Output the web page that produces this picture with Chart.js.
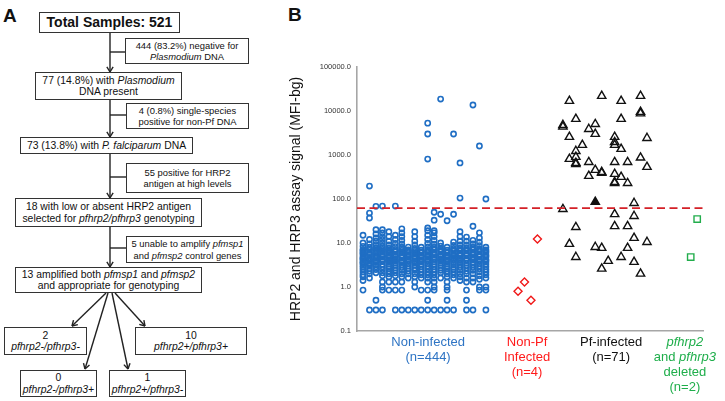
<!DOCTYPE html>
<html>
<head>
<meta charset="utf-8">
<script src="https://cdn.jsdelivr.net/npm/chart.js@4.4.1/dist/chart.umd.min.js"></script>
<style>
  body { margin: 0; background: #fff; }
  #page { position: relative; width: 725px; height: 401px; overflow: hidden;
          font-family: "Liberation Sans", Arial, sans-serif; color: #111; }
  .panel { position: absolute; font-weight: bold; font-size: 19px; line-height: 19px; }
  .box { position: absolute; box-sizing: border-box; border: 1px solid #333; background: #fff;
         text-align: center; font-size: 10.4px; line-height: 11.5px;
         display: flex; align-items: center; justify-content: center; white-space: nowrap; }
  .side { font-size: 9.4px; }
  #flow { position: absolute; left: 0; top: 0; }
  #chartB { position: absolute; left: 250px; top: 0; }
  .group { position: absolute; transform: translateX(-50%); text-align: center;
           font-size: 13px; line-height: 15px; white-space: nowrap; }
</style>
</head>
<body>
<div id="page">
  <svg id="flow" width="250" height="401"></svg>
  <div class="panel" style="left:3px;top:6px">A</div>
  <div class="panel" style="left:288px;top:5px">B</div>

  <div class="box" style="left:39px;top:12px;width:141px;height:21px;font-weight:bold;font-size:14px;border-width:1.5px">Total Samples: 521</div>
  <div class="box side" style="left:125px;top:38px;width:124px;height:26px"><div>444 (83.2%) negative for<br><i>Plasmodium</i> DNA</div></div>
  <div class="box" style="left:35px;top:72px;width:147px;height:28px"><div>77 (14.8%) with <i>Plasmodium</i><br>DNA present</div></div>
  <div class="box side" style="left:126px;top:103px;width:123px;height:26px"><div>4 (0.8%) single-species<br>positive for non-Pf DNA</div></div>
  <div class="box" style="left:20px;top:137px;width:173px;height:17px">73 (13.8%) with&nbsp;<i>P. falciparum</i>&nbsp;DNA</div>
  <div class="box side" style="left:126px;top:163px;width:123px;height:30px"><div>55 positive for HRP2<br>antigen at high levels</div></div>
  <div class="box" style="left:15px;top:198px;width:187px;height:29px"><div>18 with low or absent HRP2 antigen<br>selected for <i>pfhrp2/pfhrp3</i> genotyping</div></div>
  <div class="box side" style="left:126px;top:236px;width:123px;height:27px"><div>5 unable to amplify <i>pfmsp1</i><br>and <i>pfmsp2</i> control genes</div></div>
  <div class="box" style="left:15px;top:267px;width:187px;height:26px"><div>13 amplified both <i>pfmsp1</i> and <i>pfmsp2</i><br>and appropriate for genotyping</div></div>
  <div class="box" style="left:4px;top:327px;width:83px;height:28px"><div>2<br><i>pfhrp2-/pfhrp3-</i></div></div>
  <div class="box" style="left:135px;top:327px;width:112px;height:28px"><div>10<br><i>pfhrp2+/pfhrp3+</i></div></div>
  <div class="box" style="left:20px;top:370px;width:77px;height:27px"><div>0<br><i>pfhrp2-/pfhrp3+</i></div></div>
  <div class="box" style="left:109px;top:370px;width:77px;height:27px"><div>1<br><i>pfhrp2+/pfhrp3-</i></div></div>

  <canvas id="chartB" width="475" height="401"></canvas>
</div>

<script>
// y axis
const yTicks = [0.1, 1, 10, 100, 1000, 10000, 100000]
const cutoff = 62

// Non-infected: one array of MFI values per jitter column
const nonInfectedCols = [
  [15, 10, 8.4, 7.2, 6.8, 6.3, 5.9, 5.6, 5.0, 4.6, 4.4, 4.2, 3.8, 3.6, 3.4, 3.1, 2.8, 2.5, 2.2, 1.9, 1.7, 1.4, 0.85],
  [197, 48, 37, 12, 9.5, 8.0, 7.3, 6.8, 6.0, 5.6, 5.3, 4.7, 4.3, 4.1, 3.9, 3.5, 3.2, 3.0, 2.6, 2.3, 2.0, 1.6, 0.3],
  [68, 20, 16, 13, 11, 9.2, 7.8, 7.1, 6.6, 6.2, 5.8, 5.1, 4.8, 4.5, 4.0, 3.8, 3.6, 3.2, 2.9, 2.5, 2.1, 0.5, 0.3],
  [69, 20, 17, 14, 12, 10, 8.5, 7.8, 7.2, 6.7, 6.2, 5.4, 5.1, 4.8, 4.3, 4.0, 3.8, 3.3, 2.9, 2.5, 2.1, 1.8, 1.3, 1.0, 0.85, 0.3],
  [18, 14, 11, 9.0, 7.6, 7.0, 6.6, 6.2, 5.8, 5.2, 4.9, 4.6, 4.1, 3.9, 3.7, 3.3, 2.9, 2.6, 2.3, 2.0, 1.7, 1.3, 0.85],
  [69, 15, 12, 9.8, 8.3, 7.1, 6.6, 6.2, 5.5, 5.2, 4.9, 4.4, 4.1, 3.9, 3.5, 3.1, 2.7, 2.4, 2.1, 1.8, 1.3, 0.85, 0.3],
  [21, 17, 14, 11.5, 9.5, 8.0, 7.4, 6.8, 6.3, 5.9, 5.2, 4.9, 4.6, 4.0, 3.8, 3.6, 3.2, 2.8, 2.4, 2.0, 1.7, 1.3, 0.85, 0.3],
  [8.1, 7.0, 6.5, 6.1, 5.4, 5.1, 4.8, 4.3, 4.0, 3.8, 3.4, 3.0, 2.6, 2.3, 2.0, 1.6, 0.3],
  [18, 14, 11, 9.0, 7.5, 6.9, 6.4, 5.9, 5.6, 5.0, 4.7, 4.4, 3.9, 3.7, 3.5, 3.1, 2.7, 2.4, 2.0, 1.7, 1.3, 1.0, 0.3],
  [8.0, 6.9, 6.4, 6.0, 5.3, 5.0, 4.7, 4.2, 3.9, 3.7, 3.3, 2.9, 2.5, 2.2, 1.9, 1.6, 0.85, 0.3],
  [5300, 3000, 810, 22, 19, 15, 12, 9.8, 8.2, 7.0, 6.5, 6.1, 5.4, 5.1, 4.8, 4.3, 4.0, 3.8, 3.4, 3.0, 2.6, 2.2, 1.9, 1.6, 1.3, 0.85, 0.5, 0.3],
  [50, 33, 19, 17, 14, 11.5, 9.4, 8.0, 7.4, 6.9, 6.0, 5.6, 5.3, 4.7, 4.4, 4.2, 3.7, 3.3, 2.9, 2.5, 2.2, 1.9, 1.6, 1.3, 1.0, 0.85, 0.3],
  [18700, 45, 10, 8.5, 7.3, 6.8, 6.3, 5.5, 5.2, 4.9, 4.4, 4.1, 3.9, 3.5, 3.1, 2.7, 2.4, 2.1, 1.6, 0.3],
  [32, 8.0, 6.9, 6.4, 6.0, 5.3, 5.0, 4.7, 4.2, 3.9, 3.7, 3.3, 2.9, 2.6, 2.3, 2.0, 1.7, 1.3, 1.0, 0.85, 0.5, 0.3],
  [3000, 45, 10.5, 8.8, 7.5, 7.0, 6.5, 5.7, 5.3, 5.0, 4.5, 4.2, 4.0, 3.6, 3.2, 2.8, 2.5, 2.2, 1.9, 1.6, 0.3],
  [660, 105, 18, 14, 11, 9.0, 7.6, 7.1, 6.6, 5.8, 5.4, 5.1, 4.5, 4.2, 4.0, 3.6, 3.2, 2.8, 2.4, 2.0, 1.7, 1.4],
  [13.6, 11, 9.1, 7.7, 7.1, 6.6, 5.8, 5.4, 5.1, 4.5, 4.2, 4.0, 3.5, 3.1, 2.7, 2.3, 2.0, 1.6, 1.3, 0.85, 0.5, 0.3],
  [13700, 24, 11.5, 9.5, 8.0, 7.4, 6.9, 6.0, 5.6, 5.3, 4.7, 4.4, 4.1, 3.6, 3.2, 2.8, 2.4, 2.0, 1.6, 1.3, 0.3],
  [1600, 17, 13, 10.5, 8.7, 7.4, 6.9, 6.4, 5.6, 5.2, 4.9, 4.3, 4.0, 3.8, 3.4, 3.0, 2.6, 2.2, 1.8, 1.5, 1.0, 0.85],
  [100, 8.0, 7.0, 6.5, 6.1, 5.4, 5.1, 4.8, 4.2, 4.0, 3.7, 3.3, 2.9, 2.5, 2.2, 1.9, 1.6, 1.0, 0.85, 0.3]
]

// Non-Pf infected
const nonPfCols = [3, 1, 0, 2]
const nonPfValues = [12.3, 1.3, 0.8, 0.5]

// Pf-infected (open triangles)
const pfCols = [
  1, 6, 9, 12, 12, 12, 2, 9, 0, 0, 5, 4, 5, 1, 13, 8, 8, 8, 3, 9,
  2, 2, 2, 2, 1, 4, 8, 10, 12, 13, 5, 6, 6, 4, 8, 9, 8, 8, 10,
  0, 11, 8, 11, 2, 8, 10, 11, 13, 1, 5, 6, 10, 2, 9, 7, 11, 6, 12
]
const pfValues = [
  16900, 21900, 16900, 21900, 9500, 8800, 6580, 6580, 4790, 4400, 5040, 3890, 3000, 2570, 2430, 2570, 1960, 1690, 1690, 1370,
  1230, 900, 660, 620, 811, 690, 690, 690, 870, 533, 456, 410, 390, 333, 370, 316, 243, 230, 230,
  59, 81, 45, 41, 23, 24, 24, 13, 10.5, 9.5, 8.1, 7.7, 7.7, 4.8, 4.8, 3.9, 3.7, 2.6, 2.0
]
// Pf-infected (filled triangle)
const pfSolidCols = [5]
const pfSolidValues = [86]

// pfhrp2 and pfhrp3 deleted
const deletedCols = [1, 0]
const deletedValues = [35, 4.8]

const groupLabels = [
  { at: 11.0, color: '#2e74c4', html: 'Non-infected<br>(n=444)' },
  { at: 26.3, color: '#ff1a1a', html: 'Non-Pf<br>Infected<br>(n=4)' },
  { at: 39.3, color: '#111111', html: 'Pf-infected<br>(n=71)' },
  { at: 50.7, color: '#1fae4b', html: '<i>pfhrp2</i><br>and <i>pfhrp3</i><br>deleted<br>(n=2)' }
]

// where each group's first jitter column sits on the x scale
const NONINF_START = 0.93
const NONPF_START = 24.9
const PF_START = 31.84
const DEL_START = 51.6
const X_MAX = 53.5

function points (cols, vals, start) {
  return cols.map((c, i) => ({ x: start + c, y: vals[i] }))
}

// ---- flowchart connectors ----
const svg = document.getElementById('flow')
const NS = 'http://www.w3.org/2000/svg'
function seg (x1, y1, x2, y2) {
  const l = document.createElementNS(NS, 'line')
  l.setAttribute('x1', x1); l.setAttribute('y1', y1)
  l.setAttribute('x2', x2); l.setAttribute('y2', y2)
  l.setAttribute('stroke', '#222'); l.setAttribute('stroke-width', 1.4)
  svg.appendChild(l)
}
function arrow (x1, y1, x2, y2) {
  seg(x1, y1, x2, y2)
  const a = Math.atan2(y2 - y1, x2 - x1)
  const len = 6, spread = 0.55
  seg(x2, y2, x2 - len * Math.cos(a - spread), y2 - len * Math.sin(a - spread))
  seg(x2, y2, x2 - len * Math.cos(a + spread), y2 - len * Math.sin(a + spread))
}
arrow(110, 33, 110, 72)
arrow(110, 100, 110, 137)
arrow(110, 154, 110, 198)
arrow(110, 227, 110, 267)
seg(110, 52, 125, 52)
seg(110, 115, 126, 115)
seg(110, 177, 126, 177)
seg(110, 248, 126, 248)
arrow(106, 293, 72, 326)
arrow(108, 293, 85, 369)
arrow(112, 293, 128, 369)
arrow(115, 293, 145, 326)

// ---- panel B ----
const labelEls = groupLabels.map(g => {
  const d = document.createElement('div')
  d.className = 'group'
  d.style.color = g.color
  d.style.top = '334px'
  d.innerHTML = g.html
  document.getElementById('page').appendChild(d)
  return d
})

const placeLabels = {
  id: 'placeLabels',
  afterDraw (chart) {
    const xs = chart.scales.x
    groupLabels.forEach((g, i) => {
      labelEls[i].style.left = (250 + xs.getPixelForValue(g.at)) + 'px'
    })
  }
}

const nonInfectedData = nonInfectedCols.flatMap((vals, i) => vals.map(v => ({ x: NONINF_START + i, y: v })))

new Chart(document.getElementById('chartB'), {
  type: 'scatter',
  data: {
    datasets: [
      {
        type: 'line',
        data: [{ x: 0, y: cutoff }, { x: X_MAX, y: cutoff }],
        borderColor: '#d42027',
        borderWidth: 1.6,
        borderDash: [8, 4.5],
        pointRadius: 0
      },
      {
        data: points(pfSolidCols, pfSolidValues, PF_START),
        pointStyle: 'triangle',
        pointRadius: 4.8,
        borderColor: '#111',
        backgroundColor: '#111',
        pointBorderWidth: 1.4
      },
      {
        data: points(pfCols, pfValues, PF_START),
        pointStyle: 'triangle',
        pointRadius: 4.8,
        borderColor: '#111',
        backgroundColor: 'rgba(0,0,0,0)',
        pointBorderWidth: 1.4
      },
      {
        data: points(nonPfCols, nonPfValues, NONPF_START),
        pointStyle: 'rectRot',
        pointRadius: 4,
        borderColor: '#f01818',
        backgroundColor: 'rgba(0,0,0,0)',
        pointBorderWidth: 1.4
      },
      {
        data: points(deletedCols, deletedValues, DEL_START),
        pointStyle: 'rect',
        pointRadius: 4.5,
        borderColor: '#22ad4c',
        backgroundColor: 'rgba(0,0,0,0)',
        pointBorderWidth: 1.4
      },
      {
        data: nonInfectedData,
        pointStyle: 'circle',
        pointRadius: 2.6,
        borderColor: '#1f6ec4',
        backgroundColor: 'rgba(0,0,0,0)',
        pointBorderWidth: 1.6
      }
    ]
  },
  options: {
    responsive: false,
    animation: false,
    layout: { padding: { top: 67, right: 22, left: 0, bottom: 0 } },
    plugins: { legend: { display: false }, tooltip: { enabled: false } },
    scales: {
      x: {
        type: 'linear',
        min: 0,
        max: X_MAX,
        grid: { display: false, drawTicks: false },
        ticks: { display: false },
        border: { color: '#a6a6a6', width: 1.6 },
        afterFit: (scale) => { scale.height = 70 }
      },
      y: {
        type: 'logarithmic',
        min: 0.1,
        max: 100000,
        grid: { display: false, drawTicks: false },
        border: { color: '#a6a6a6', width: 1.6 },
        afterBuildTicks: (scale) => { scale.ticks = yTicks.map(v => ({ value: v })) },
        ticks: {
          padding: 6,
          color: '#333',
          font: { family: 'Liberation Sans', size: 7.5 },
          callback: (v) => Number(v).toFixed(1)
        },
        title: {
          display: true,
          text: 'HRP2 and HRP3 assay signal (MFI-bg)',
          color: '#111',
          font: { family: 'Liberation Sans', size: 14 },
          padding: { top: 38, bottom: 0 }
        },
        afterFit: (scale) => { scale.width = 107 }
      }
    }
  },
  plugins: [placeLabels]
})
</script>
</body>
</html>
